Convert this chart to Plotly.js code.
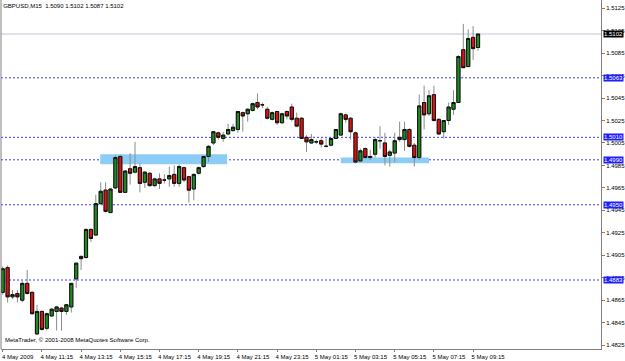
<!DOCTYPE html>
<html>
<head>
<meta charset="utf-8">
<script src="https://cdn.plot.ly/plotly-3.0.1.min.js"></script>
<style>
html,body{margin:0;padding:0;background:#fff;}
#chart{width:625px;height:361px;}
</style>
</head>
<body>
<div id="chart"></div>
<script>
// ---- data (GBPUSD, M15) ----
const openP = [1.4872,1.4894,1.4868,1.4871,1.4865,1.4880,1.4872,1.4835,1.4855,1.4840,
1.4851,1.4855,1.4858,1.4855,1.4859,1.4884,1.4904,1.4903,1.4928,1.4923,
1.4951,1.4963,1.4943,1.4965,1.4993,1.4961,1.4982,1.4979,1.4983,1.4970,
1.4978,1.4967,1.4973,1.4972,1.4973,1.4977,1.4969,1.4983,1.4975,1.4964,
1.4978,1.4984,1.4993,1.5005,1.5014,1.5009,1.5013,1.5016,1.5017,1.5032,
1.5031,1.5034,1.5041,1.5039,1.5035,1.5026,1.5033,1.5023,1.5033,1.5037,
1.5027,1.5027,1.5010,1.5005,1.5006,1.5007,1.5002,1.5003,1.5009,1.5012,
1.5030,1.5027,1.5014,1.4989,1.5000,1.4992,1.4995,1.5007,1.5005,1.4994,
1.4996,1.5008,1.5008,1.5017,1.5003,1.4992,1.5041,1.5031,1.5048,1.5026,
1.5015,1.5025,1.5035,1.5041,1.5088,1.5073,1.5099,1.5090];
const highP = [1.4895,1.4896,1.4874,1.4874,1.4882,1.4892,1.4873,1.4861,1.4856,1.4854,
1.4858,1.4860,1.4859,1.4861,1.4880,1.4898,1.4905,1.4929,1.4929,1.4959,
1.4970,1.4970,1.4964,1.4994,1.4994,1.4981,1.4996,1.5006,1.4987,1.4980,
1.4979,1.4974,1.4978,1.4977,1.4984,1.4985,1.4986,1.4984,1.4975,1.4978,
1.4984,1.4993,1.5003,1.5015,1.5015,1.5015,1.5022,1.5022,1.5033,1.5033,
1.5036,1.5041,1.5049,1.5041,1.5037,1.5033,1.5033,1.5032,1.5034,1.5040,
1.5032,1.5028,1.5012,1.5013,1.5008,1.5009,1.5009,1.5009,1.5017,1.5032,
1.5031,1.5028,1.5015,1.5000,1.5001,1.4999,1.5010,1.5020,1.5014,1.4999,
1.5014,1.5024,1.5024,1.5018,1.5005,1.5048,1.5056,1.5052,1.5056,1.5027,
1.5025,1.5041,1.5052,1.5083,1.5111,1.5106,1.5109,1.5102];
const lowP = [1.4870,1.4863,1.4866,1.4863,1.4863,1.4870,1.4852,1.4834,1.4838,1.4838,
1.4850,1.4838,1.4838,1.4852,1.4854,1.4876,1.4892,1.4902,1.4917,1.4923,
1.4950,1.4943,1.4943,1.4964,1.4961,1.4961,1.4968,1.4978,1.4961,1.4965,
1.4966,1.4966,1.4964,1.4969,1.4966,1.4966,1.4966,1.4970,1.4952,1.4954,
1.4977,1.4983,1.4988,1.5003,1.5008,1.5006,1.5012,1.5015,1.5014,1.5015,
1.5024,1.5033,1.5035,1.5036,1.5026,1.5025,1.5021,1.5022,1.5026,1.5024,
1.5019,1.5009,1.4997,1.5004,1.5004,1.5001,1.5001,1.5002,1.5009,1.5012,
1.5023,1.5008,1.4987,1.4988,1.4991,1.4990,1.4992,1.5000,1.4985,1.4984,
1.4988,1.5006,1.4998,1.5001,1.4984,1.4990,1.5017,1.5029,1.5024,1.5012,
1.5009,1.5021,1.5030,1.5041,1.5072,1.5073,1.5079,1.5087];
const closeP = [1.4893,1.4868,1.4870,1.4868,1.4880,1.4871,1.4853,1.4855,1.4839,1.4853,
1.4857,1.4859,1.4855,1.4861,1.4880,1.4898,1.4902,1.4928,1.4920,1.4951,
1.4962,1.4944,1.4964,1.4992,1.4961,1.4980,1.4978,1.4984,1.4969,1.4979,
1.4967,1.4973,1.4969,1.4972,1.4976,1.4969,1.4984,1.4972,1.4963,1.4977,
1.4983,1.4993,1.5002,1.5015,1.5010,1.5012,1.5017,1.5019,1.5033,1.5029,
1.5035,1.5040,1.5037,1.5039,1.5027,1.5032,1.5023,1.5031,1.5029,1.5026,
1.5020,1.5009,1.5006,1.5008,1.5006,1.5004,1.5002,1.5009,1.5017,1.5031,
1.5026,1.5015,1.4988,1.4998,1.4992,1.4993,1.5008,1.5007,1.4993,1.4997,
1.5007,1.5010,1.5017,1.5002,1.4992,1.5038,1.5030,1.5047,1.5025,1.5013,
1.5025,1.5037,1.5041,1.5082,1.5072,1.5098,1.5089,1.5102];

// time labels (every 8 bars of 15 minutes)
const timeTickBars = [0,8,16,24,32,40,48,56,64,72,80,88,96];
const timeTickText = ["4 May 2009","4 May 11:15","4 May 13:15","4 May 15:15","4 May 17:15",
  "4 May 19:15","4 May 21:15","4 May 23:15","5 May 01:15","5 May 03:15","5 May 05:15",
  "5 May 07:15","5 May 09:15"];

// price scale labels
const priceTickVals = [1.5125,1.5105,1.5085,1.5065,1.5045,1.5025,1.5005,1.4985,1.4965,
  1.4945,1.4925,1.4905,1.4885,1.4865,1.4845,1.4825];
const priceTickText = priceTickVals.map(v => v.toFixed(4));

// horizontal levels drawn on chart
const levelPrices = [1.5063, 1.5010, 1.4990, 1.4950, 1.4883];

// rectangle zones (bar index / price)
const zoneStartBar = [19.9, 69.0];
const zoneEndBar = [45.8, 87.0];
const zoneLow = [1.4986, 1.4987];
const zoneHigh = [1.4995, 1.4992];

// ---- build ----
const barIndex = openP.map((_, i) => i);
const bodyHigh = openP.map((o, i) => Math.max(o, closeP[i]));
const bodyLow = openP.map((o, i) => Math.min(o, closeP[i]));
const last = openP.length - 1;
const bid = closeP[last];

const wickColor = '#8c8c8c';
const upFill = '#1f8a1f';
const dnFill = '#e01010';

const traces = [
  {
    type: 'candlestick', x: barIndex, open: openP, high: highP, low: lowP, close: closeP,
    whiskerwidth: 0, hoverinfo: 'skip', showlegend: false,
    increasing: {line: {color: wickColor, width: 1}, fillcolor: wickColor},
    decreasing: {line: {color: wickColor, width: 1}, fillcolor: wickColor}
  },
  {
    type: 'candlestick', x: barIndex, open: openP, high: bodyHigh, low: bodyLow, close: closeP,
    whiskerwidth: 0, hoverinfo: 'skip', showlegend: false,
    increasing: {line: {color: '#101010', width: 1}, fillcolor: upFill},
    decreasing: {line: {color: '#101010', width: 1}, fillcolor: dnFill}
  }
];

const shapes = [];
zoneStartBar.forEach((x0, i) => {
  shapes.push({type: 'rect', xref: 'x', yref: 'y', x0: x0, x1: zoneEndBar[i],
    y0: zoneLow[i], y1: zoneHigh[i], fillcolor: '#8ccdf7', line: {width: 0}, layer: 'below'});
});
levelPrices.forEach(p => {
  shapes.push({type: 'line', xref: 'paper', yref: 'y', x0: 0, x1: 1, y0: p, y1: p,
    line: {color: '#3b3bff', width: 1, dash: '2px,2px'}, layer: 'below'});
});
shapes.push({type: 'line', xref: 'paper', yref: 'y', x0: 0, x1: 1, y0: bid, y1: bid,
  line: {color: '#c0c6d4', width: 1}, layer: 'below'});
shapes.push({type: 'line', xref: 'paper', yref: 'paper', x0: 0, x1: 0, y0: 0, y1: 1,
  line: {color: '#808080', width: 1}});

const fontFam = '"Liberation Sans", Arial, sans-serif';
const annotations = [];
levelPrices.forEach(p => {
  annotations.push({xref: 'paper', yref: 'y', x: 1, y: p, xanchor: 'left', yanchor: 'middle',
    xshift: 2, text: p.toFixed(4), showarrow: false, bgcolor: '#1e1eff', borderpad: 0,
    font: {family: fontFam, size: 6, color: '#ffffff'}});
});
annotations.push({xref: 'paper', yref: 'y', x: 1, y: bid, xanchor: 'left', yanchor: 'middle',
  xshift: 2, text: bid.toFixed(4), showarrow: false, bgcolor: '#000000', borderpad: 0,
  font: {family: fontFam, size: 6, color: '#ffffff'}});
annotations.push({xref: 'paper', yref: 'paper', x: 0, y: 0, xanchor: 'left', yanchor: 'bottom',
  xshift: 2, yshift: 4, text: 'MetaTrader, © 2001-2008 MetaQuotes Software Corp.', showarrow: false,
  font: {family: fontFam, size: 6, color: '#000000'}});

const titleText = 'GBPUSD,M15  ' + [openP[last], highP[last], lowP[last], closeP[last]]
  .map(v => v.toFixed(4)).join(' ');

const layout = {
  width: 625, height: 361,
  margin: {l: 1, r: 24, t: 0, b: 12, pad: 0},
  paper_bgcolor: '#ffffff', plot_bgcolor: '#ffffff',
  showlegend: false,
  boxgap: 0.35, boxgroupgap: 0,
  title: {text: titleText, xref: 'container', x: 0.005, xanchor: 'left',
    yref: 'container', y: 0.983, yanchor: 'middle',
    font: {family: fontFam, size: 6, color: '#000000'}},
  xaxis: {
    type: 'linear', range: [-0.347, 122.1], rangeslider: {visible: false},
    showgrid: false, zeroline: false, showline: true, linecolor: '#808080', linewidth: 1,
    tickmode: 'array', tickvals: timeTickBars, ticktext: timeTickText,
    ticks: 'outside', ticklen: 2, tickcolor: '#808080', ticklabelshift: 15,
    tickfont: {family: fontFam, size: 6, color: '#000000'}, fixedrange: true
  },
  yaxis: {
    side: 'right', range: [1.482157, 1.513227],
    showgrid: false, zeroline: false, showline: true, linecolor: '#808080', linewidth: 1,
    tickmode: 'array', tickvals: priceTickVals, ticktext: priceTickText,
    ticks: 'outside', ticklen: 3, tickcolor: '#808080',
    tickfont: {family: fontFam, size: 6, color: '#000000'}, fixedrange: true
  },
  shapes: shapes,
  annotations: annotations
};

Plotly.newPlot('chart', traces, layout, {displayModeBar: false, staticPlot: true});
</script>
</body>
</html>
